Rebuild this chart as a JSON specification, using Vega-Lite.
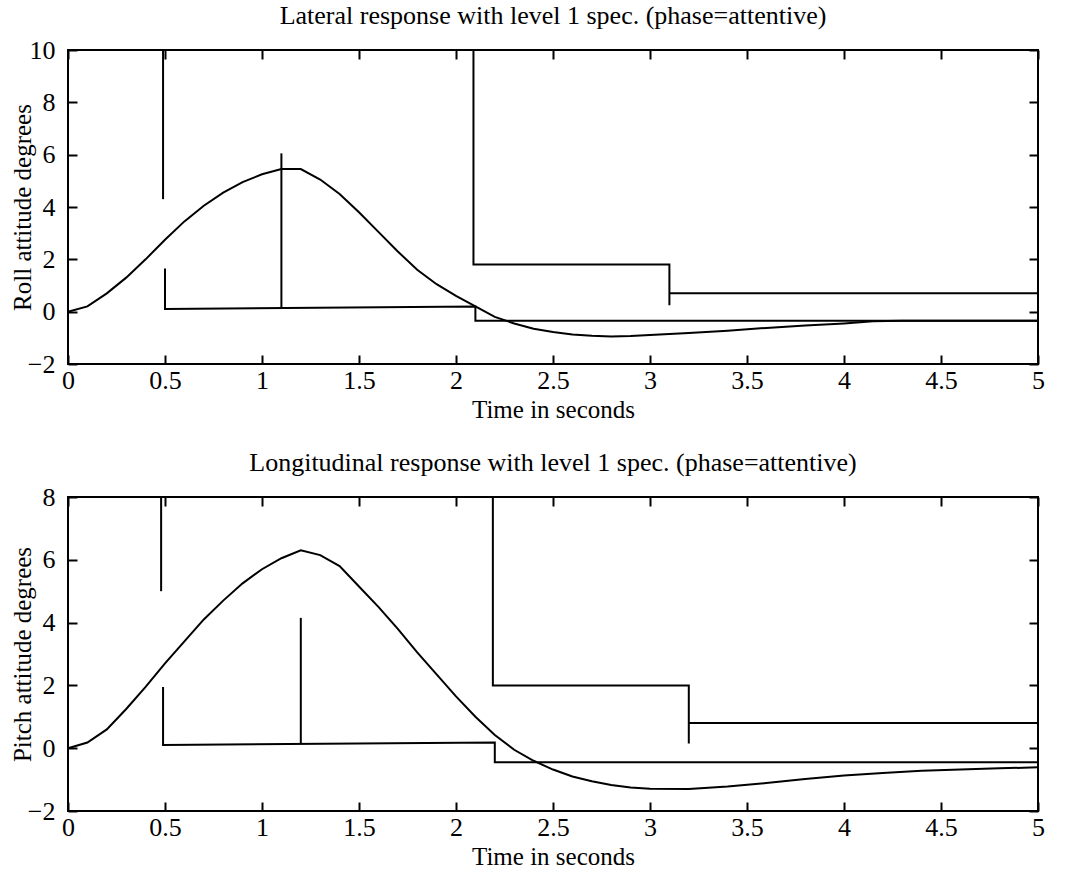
{
  "$schema": "https://vega.github.io/schema/vega-lite/v6.json",
  "background": "white",
  "padding": {"left": 9, "top": 2, "right": 0, "bottom": 0},
  "datasets": {
    "roll_response": [
      {"t": 0, "v": 0}, {"t": 0.1, "v": 0.2}, {"t": 0.2, "v": 0.7}, {"t": 0.3, "v": 1.3},
      {"t": 0.4, "v": 2.0}, {"t": 0.5, "v": 2.75}, {"t": 0.6, "v": 3.45}, {"t": 0.7, "v": 4.05},
      {"t": 0.8, "v": 4.55}, {"t": 0.9, "v": 4.95}, {"t": 1.0, "v": 5.25}, {"t": 1.1, "v": 5.45},
      {"t": 1.2, "v": 5.45}, {"t": 1.3, "v": 5.05}, {"t": 1.4, "v": 4.5}, {"t": 1.5, "v": 3.8},
      {"t": 1.6, "v": 3.05}, {"t": 1.7, "v": 2.3}, {"t": 1.8, "v": 1.6}, {"t": 1.9, "v": 1.05},
      {"t": 2.0, "v": 0.6}, {"t": 2.1, "v": 0.2}, {"t": 2.2, "v": -0.2}, {"t": 2.3, "v": -0.45},
      {"t": 2.4, "v": -0.65}, {"t": 2.5, "v": -0.78}, {"t": 2.6, "v": -0.87}, {"t": 2.7, "v": -0.92},
      {"t": 2.8, "v": -0.95}, {"t": 2.9, "v": -0.93}, {"t": 3.0, "v": -0.89}, {"t": 3.2, "v": -0.82},
      {"t": 3.4, "v": -0.73}, {"t": 3.6, "v": -0.62}, {"t": 3.8, "v": -0.53}, {"t": 4.0, "v": -0.45},
      {"t": 4.15, "v": -0.37}, {"t": 4.3, "v": -0.35}, {"t": 5.0, "v": -0.35}
    ],
    "roll_bounds": [
      {"seg": "a", "t": 0.49, "v": 10}, {"seg": "a", "t": 0.49, "v": 4.3},
      {"seg": "b", "t": 0.5, "v": 1.65}, {"seg": "b", "t": 0.5, "v": 0.1}, {"seg": "b", "t": 2.1, "v": 0.2},
      {"seg": "b", "t": 2.1, "v": -0.35}, {"seg": "b", "t": 5, "v": -0.35},
      {"seg": "c", "t": 1.1, "v": 6.05}, {"seg": "c", "t": 1.1, "v": 0.14},
      {"seg": "d", "t": 2.09, "v": 10}, {"seg": "d", "t": 2.09, "v": 1.8}, {"seg": "d", "t": 3.1, "v": 1.8},
      {"seg": "d", "t": 3.1, "v": 0.25},
      {"seg": "e", "t": 3.1, "v": 0.7}, {"seg": "e", "t": 5, "v": 0.7}
    ],
    "pitch_response": [
      {"t": 0, "v": 0}, {"t": 0.1, "v": 0.18}, {"t": 0.2, "v": 0.6}, {"t": 0.3, "v": 1.25},
      {"t": 0.4, "v": 1.95}, {"t": 0.5, "v": 2.7}, {"t": 0.6, "v": 3.4}, {"t": 0.7, "v": 4.1},
      {"t": 0.8, "v": 4.7}, {"t": 0.9, "v": 5.25}, {"t": 1.0, "v": 5.7}, {"t": 1.1, "v": 6.05},
      {"t": 1.2, "v": 6.3}, {"t": 1.3, "v": 6.15}, {"t": 1.4, "v": 5.8}, {"t": 1.5, "v": 5.15},
      {"t": 1.6, "v": 4.5}, {"t": 1.7, "v": 3.8}, {"t": 1.8, "v": 3.05}, {"t": 1.9, "v": 2.35},
      {"t": 2.0, "v": 1.65}, {"t": 2.1, "v": 1.0}, {"t": 2.2, "v": 0.42}, {"t": 2.3, "v": -0.05},
      {"t": 2.4, "v": -0.4}, {"t": 2.5, "v": -0.68}, {"t": 2.6, "v": -0.9}, {"t": 2.7, "v": -1.05},
      {"t": 2.8, "v": -1.17}, {"t": 2.9, "v": -1.25}, {"t": 3.0, "v": -1.29}, {"t": 3.2, "v": -1.3},
      {"t": 3.4, "v": -1.22}, {"t": 3.6, "v": -1.11}, {"t": 3.8, "v": -0.98}, {"t": 4.0, "v": -0.87},
      {"t": 4.2, "v": -0.79}, {"t": 4.4, "v": -0.72}, {"t": 4.6, "v": -0.68}, {"t": 4.8, "v": -0.64},
      {"t": 5.0, "v": -0.61}
    ],
    "pitch_bounds": [
      {"seg": "a", "t": 0.48, "v": 8}, {"seg": "a", "t": 0.48, "v": 5.0},
      {"seg": "b", "t": 0.49, "v": 1.95}, {"seg": "b", "t": 0.49, "v": 0.1}, {"seg": "b", "t": 2.2, "v": 0.18},
      {"seg": "b", "t": 2.2, "v": -0.45}, {"seg": "b", "t": 5, "v": -0.45},
      {"seg": "c", "t": 1.2, "v": 4.15}, {"seg": "c", "t": 1.2, "v": 0.14},
      {"seg": "d", "t": 2.19, "v": 8}, {"seg": "d", "t": 2.19, "v": 2.0}, {"seg": "d", "t": 3.2, "v": 2.0},
      {"seg": "d", "t": 3.2, "v": 0.15},
      {"seg": "e", "t": 3.2, "v": 0.8}, {"seg": "e", "t": 5, "v": 0.8}
    ]
  },
  "config": {
    "font": "Liberation Serif",
    "view": {"stroke": "black", "strokeWidth": 2},
    "axis": {
      "domain": false,
      "grid": false,
      "tickColor": "black",
      "tickWidth": 2,
      "tickSize": -9,
      "labelFont": "Liberation Serif",
      "labelFontSize": 26,
      "labelColor": "black",
      "labelFlush": false,
      "labelOverlap": false,
      "titleFont": "Liberation Serif",
      "titleFontSize": 25,
      "titleFontWeight": "normal",
      "titleColor": "black"
    },
    "axisBottom": {"labelPadding": 12, "titlePadding": 4},
    "axisLeft": {"labelPadding": 22, "titlePadding": -8},
    "title": {"font": "Liberation Serif", "fontSize": 26, "fontWeight": "normal", "color": "black", "offset": 8, "frame": "group"},
    "line": {"color": "black", "strokeWidth": 2}
  },
  "spacing": 26,
  "vconcat": [
    {
      "width": 970,
      "height": 314,
      "title": "Lateral response with level 1 spec. (phase=attentive)",
      "layer": [
        {
          "data": {"name": "roll_response"},
          "mark": {"type": "line"},
          "encoding": {
            "x": {"field": "t", "type": "quantitative", "scale": {"domain": [0, 5], "nice": false, "zero": false},
                  "axis": {"orient": "bottom", "values": [0, 0.5, 1, 1.5, 2, 2.5, 3, 3.5, 4, 4.5, 5], "format": "~r", "title": "Time in seconds"}},
            "y": {"field": "v", "type": "quantitative", "scale": {"domain": [-2, 10], "nice": false, "zero": false},
                  "axis": {"orient": "left", "values": [-2, 0, 2, 4, 6, 8, 10], "format": "d", "title": "Roll attitude degrees"}}
          }
        },
        {
          "data": {"name": "roll_bounds"},
          "mark": {"type": "line"},
          "encoding": {
            "x": {"field": "t", "type": "quantitative",
                  "axis": {"orient": "top", "values": [0, 0.5, 1, 1.5, 2, 2.5, 3, 3.5, 4, 4.5, 5], "labels": false, "title": null}},
            "y": {"field": "v", "type": "quantitative",
                  "axis": {"orient": "right", "values": [-2, 0, 2, 4, 6, 8, 10], "labels": false, "title": null}},
            "detail": {"field": "seg"},
            "order": {"value": null}
          }
        }
      ],
      "resolve": {"axis": {"x": "independent", "y": "independent"}}
    },
    {
      "width": 970,
      "height": 314,
      "title": "Longitudinal response with level 1 spec. (phase=attentive)",
      "layer": [
        {
          "data": {"name": "pitch_response"},
          "mark": {"type": "line"},
          "encoding": {
            "x": {"field": "t", "type": "quantitative", "scale": {"domain": [0, 5], "nice": false, "zero": false},
                  "axis": {"orient": "bottom", "values": [0, 0.5, 1, 1.5, 2, 2.5, 3, 3.5, 4, 4.5, 5], "format": "~r", "title": "Time in seconds"}},
            "y": {"field": "v", "type": "quantitative", "scale": {"domain": [-2, 8], "nice": false, "zero": false},
                  "axis": {"orient": "left", "values": [-2, 0, 2, 4, 6, 8], "format": "d", "title": "Pitch attitude degrees"}}
          }
        },
        {
          "data": {"name": "pitch_bounds"},
          "mark": {"type": "line"},
          "encoding": {
            "x": {"field": "t", "type": "quantitative",
                  "axis": {"orient": "top", "values": [0, 0.5, 1, 1.5, 2, 2.5, 3, 3.5, 4, 4.5, 5], "labels": false, "title": null}},
            "y": {"field": "v", "type": "quantitative",
                  "axis": {"orient": "right", "values": [-2, 0, 2, 4, 6, 8], "labels": false, "title": null}},
            "detail": {"field": "seg"},
            "order": {"value": null}
          }
        }
      ],
      "resolve": {"axis": {"x": "independent", "y": "independent"}}
    }
  ]
}
